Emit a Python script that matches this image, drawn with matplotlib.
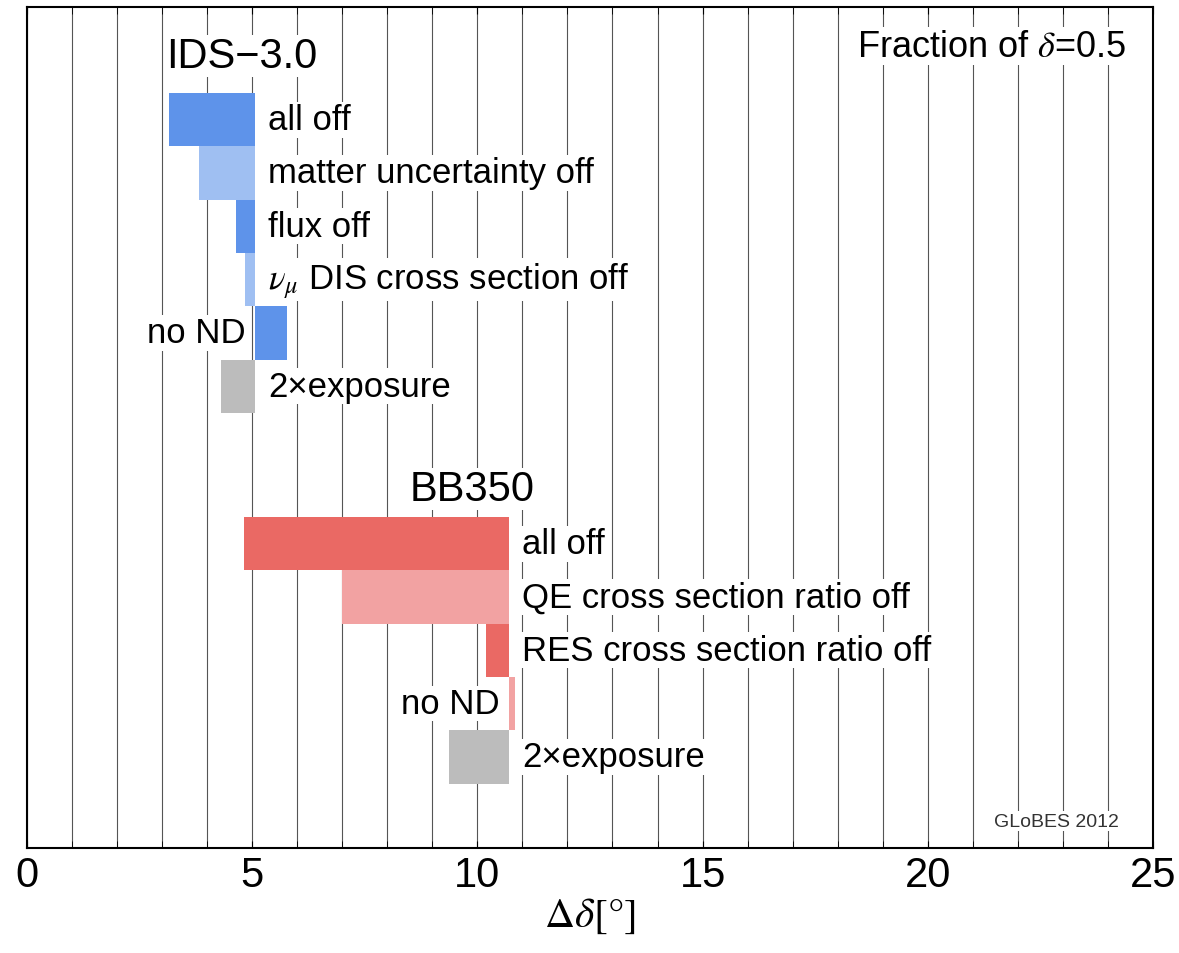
import numpy as np
import matplotlib
matplotlib.use("Agg")
import matplotlib.pyplot as plt

plt.rcParams['font.family'] = ['Liberation Sans', 'DejaVu Sans']
plt.rcParams['mathtext.fontset'] = 'stix'

# IDS-3.0 : reference value and modified values
ids_base = 5.06
ids_labels = ["all off", "matter uncertainty off", "flux off",
              r"$\nu_\mu$ DIS cross section off", "no ND", "2×exposure"]
ids_values = [3.15, 3.83, 4.65, 4.83, 5.77, 4.31]
ids_colors = ["#5e93ea", "#9fbff2", "#5e93ea", "#9fbff2", "#5e93ea", "#bcbcbc"]

# BB350
bb_base = 10.70
bb_labels = ["all off", "QE cross section ratio off", "RES cross section ratio off",
             "no ND", "2×exposure"]
bb_values = [4.82, 7.00, 10.19, 10.83, 9.37]
bb_colors = ["#ea6964", "#f2a2a2", "#ea6964", "#f2a2a2", "#bcbcbc"]

ROW = 53.3

fig = plt.figure(figsize=(11.79, 9.54), dpi=100)
ax = fig.add_axes([0.0229, 0.110, 0.955, 0.8816])

box = dict(facecolor='white', edgecolor='none', pad=1)


def draw_group(base, labels, values, colors, top):
    for i, (lab, val, col) in enumerate(zip(labels, values, colors)):
        yc = top + (i + 0.5) * ROW
        left = min(base, val)
        ax.barh(yc, abs(val - base), left=left, height=ROW,
                color=col, edgecolor='none', zorder=3)
        if lab == "no ND":
            ax.text(left - 0.2, yc, lab, ha='right', va='center',
                    fontsize=25, zorder=4, bbox=box)
        else:
            ax.text(base + 0.3, yc, lab, ha='left', va='center',
                    fontsize=25, zorder=4, bbox=box)


draw_group(ids_base, ids_labels, ids_values, ids_colors, 86)
draw_group(bb_base, bb_labels, bb_values, bb_colors, 510)

ax.text(3.1, 49, "IDS−3.0", fontsize=30, ha='left', va='center', zorder=4, bbox=box)
ax.text(8.5, 482, "BB350", fontsize=30, ha='left', va='center', zorder=4, bbox=box)
ax.text(24.41, 39, r"Fraction of $\delta$=0.5", fontsize=26, ha='right',
        va='center', zorder=4, bbox=box)
ax.text(24.24, 814, "GLoBES 2012", fontsize=14, ha='right', va='center',
        color='#333333', zorder=4, bbox=box)

ax.set_xlim(0, 25)
ax.set_ylim(841, 0)
ax.set_xticks(np.arange(0, 26, 5))
ax.set_xticks(np.arange(0, 26, 1), minor=True)
ax.set_yticks([])
ax.grid(True, which='both', axis='x', color='#555555', linewidth=0.8, zorder=0)
ax.tick_params(axis='x', which='both', direction='in', top=True, length=5,
               labelsize=30, pad=5)
for sp in ax.spines.values():
    sp.set_linewidth(1.5)

ax.set_xlabel(r"$\Delta\delta[\degree]$", fontsize=30, labelpad=0)

fig.savefig("out.png", dpi=100)
